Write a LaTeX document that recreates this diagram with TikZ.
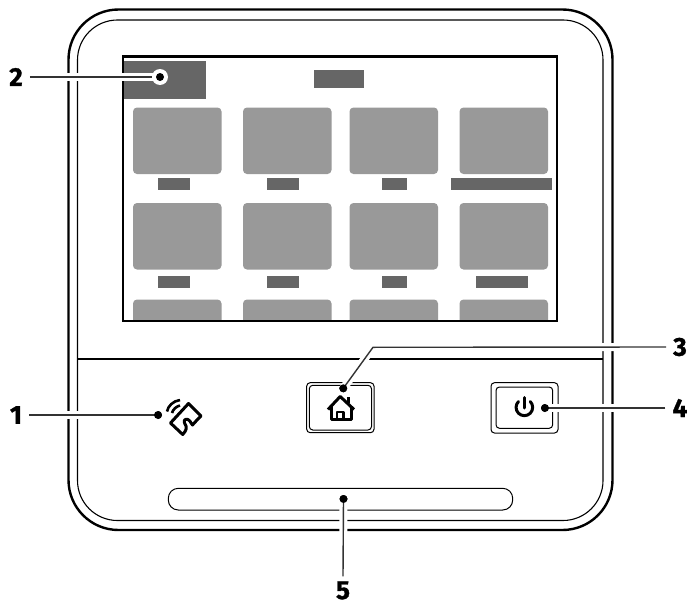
\documentclass[tikz,border=0pt]{standalone}
\usepackage{fontspec}
\setmainfont{Fira Sans}
\newfontfamily\numfont[BoldFeatures={FakeBold=1.2}]{Fira Sans}
\definecolor{tilegray}{HTML}{999999}
\definecolor{bargray}{HTML}{666666}
\definecolor{leadgray}{HTML}{333333}
\tikzset{
  x=1pt,y=-1pt,
  tile/.style={fill=tilegray,rounded corners=4pt},
  bar/.style={fill=bargray},
  outerline/.style={draw=black,line width=2.4pt,rounded corners=50pt},
  innerline/.style={draw=black,line width=1.1pt,rounded corners=40pt},
  btn/.style={draw=black,line width=1pt,rounded corners=3.5pt},
  icon/.style={draw=black,line width=3pt,line join=round},
  dotnode/.style={circle,fill=black,inner sep=0pt,minimum size=8pt},
  numlabel/.style={font=\numfont\fontsize{26}{26}\selectfont\bfseries,inner sep=0pt,text=black},
  leader/.style={draw=leadgray,line width=1.4pt,preaction={draw=white,line width=8pt}},
}
\begin{document}
\begin{tikzpicture}
\useasboundingbox (0,0) rectangle (689,605);
\fill[white] (0,0) rectangle (689,605);
% housing
\path[outerline] (68.5,9.5) rectangle (612.5,530);
\path[innerline] (77.5,20) rectangle (603,520.5);
\draw[black,line width=1.1pt] (77.5,359) -- (603,359);
% screen content
\begin{scope}
\clip (123,56.5) rectangle (557,321);
\fill[bar] (123,61) rectangle (206,99);
\fill[bar] (314,70) rectangle (364,88);
\foreach \y/\z in {107.5/174,203/269.5,299.5/366}{
  \fill[tile] (133,\y) rectangle (221.5,\z);
  \fill[tile] (243,\y) rectangle (331.5,\z);
  \fill[tile] (349.5,\y) rectangle (438,\z);
  \fill[tile] (459.5,\y) rectangle (548,\z);
}
\fill[bar] (157.5,178) rectangle (190,190);
\fill[bar] (267,178) rectangle (299,190);
\fill[bar] (382,178) rectangle (406.5,190);
\fill[bar] (451,178) rectangle (551.5,190);
\fill[bar] (157.5,275.5) rectangle (190,287.5);
\fill[bar] (267,275.5) rectangle (299,287.5);
\fill[bar] (382,275.5) rectangle (406.5,287.5);
\fill[bar] (476,275.5) rectangle (527.5,287.5);
\end{scope}
\draw[black,line width=2.6pt] (123,56.5) rectangle (557,321);
% buttons
\path[btn] (306.7,382.7) rectangle (374,432.7);
\path[btn] (309.3,385.3) rectangle (371.5,430);
\path[btn] (491,382.7) rectangle (558,433);
\path[btn] (496,387) rectangle (552.7,428.3);
% slot
\draw[black,line width=1pt,rounded corners=10pt] (168.3,488.3) rectangle (512.7,510);
% home icon
\draw[icon,line width=3pt] (328,409.5) -- (340.2,396.5) -- (354,409.5);
\draw[icon] (331,406) -- (331,419.5) -- (351,419.5) -- (351,406);
\draw[icon,line width=2.4pt] (337,419.5) -- (337,412) -- (343.5,412) -- (343.5,419.5);
\fill[black] (346.5,396.5) rectangle (350,403);
% power icon
\draw[icon,line cap=round] (518.5,401.5) arc[start angle=225,end angle=-45,radius=8.3];
\draw[icon,line cap=round] (524.3,397.5) -- (524.3,408);
% card icon
\draw[icon] (170.5,423) -- (188.5,403.5) -- (201,416)
  .. controls (198,419) and (195,422) .. (192.5,425)
  .. controls (190,422) and (190,420) .. (188,419.5)
  .. controls (184,418.5) and (183.5,421) .. (185,424)
  .. controls (187,427) and (187,430) .. (182.7,434.5) -- cycle;
\draw[black,line width=2.6pt] (167,411.5) .. controls (168,406) and (173,401) .. (180,400);
\draw[black,line width=2.6pt] (172,413) .. controls (173,409.5) and (176,406.5) .. (180,405.5);
% callouts
\node[numlabel] (n1) at (16,415) {1};
\node[numlabel] (n2) at (16,77) {2};
\node[numlabel] (n3) at (680,347) {3};
\node[numlabel] (n4) at (680,408) {4};
\node[numlabel] (n5) at (343,590.5) {5};
\coordinate (k3) at (373,347.3);
\node[dotnode] (d1) at (158,415) {};
\node[dotnode] (d2) at (160,77) {};
\node[dotnode] (d3) at (343.3,388.3) {};
\node[dotnode] (d4) at (545,408) {};
\node[dotnode] (d5) at (343.5,499) {};
\draw[leader] (n1.east) ++(7,0) coordinate (s1) (s1) -- (d1.center);
\draw[leader] (n2.east) ++(7,0) coordinate (s2) (s2) -- (d2.center);
\draw[leader] (n3.west) ++(-7,0) coordinate (s3) (s3) -- (k3) -- (d3.center);
\draw[leader] (n4.west) ++(-7,0) coordinate (s4) (s4) -- (d4.center);
\draw[leader] (n5.north) ++(0,-5) coordinate (s5) (s5) -- (d5.center);
\fill[white] (d2) circle (8pt);
\node[dotnode] at (d1) {};
\node[dotnode] at (d2) {};
\node[dotnode] at (d3) {};
\node[dotnode] at (d4) {};
\node[dotnode] at (d5) {};
\end{tikzpicture}
\end{document}
